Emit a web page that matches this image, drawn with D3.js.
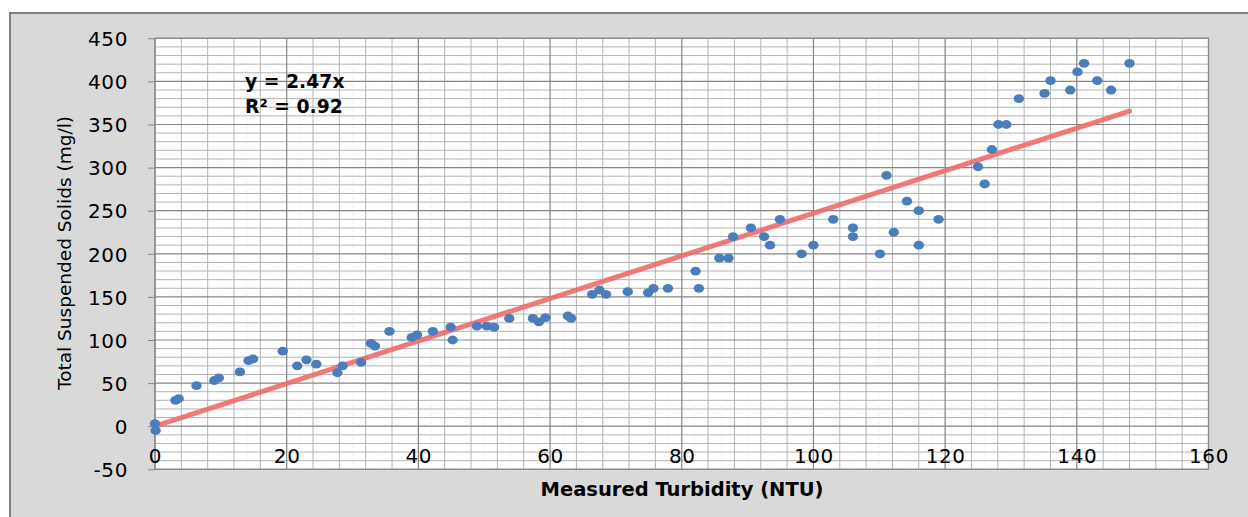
<!DOCTYPE html>
<html>
<head>
<meta charset="utf-8">
<script src="https://cdn.jsdelivr.net/npm/d3@7"></script>
<style>
  html, body { margin: 0; padding: 0; background: #ffffff; }
  svg { display: block; }
  text { font-family: "DejaVu Sans", sans-serif; fill: #000; }
</style>
</head>
<body>
<svg id="chart" width="1248" height="517"></svg>
<script>
// ---- data ----
const turbidity = [0, 0.1, 3.1, 3.6, 6.3, 9.0, 9.7, 12.9, 14.2, 14.9,
  19.4, 21.6, 23.0, 24.5, 27.7, 28.5, 31.3, 32.8, 33.4, 35.6,
  39.0, 39.8, 42.2, 44.9, 45.2, 48.9, 50.4, 51.5, 53.8, 57.4,
  58.3, 59.3, 62.7, 63.2, 66.4, 67.5, 68.5, 71.8, 74.9, 75.7,
  77.9, 82.1, 82.6, 85.7, 87.1, 87.8, 90.5, 92.5, 93.4, 94.9,
  98.2, 100.0, 103.0, 106.0, 106.0, 110.1, 111.1, 112.2, 114.2, 116.0,
  116.0, 119.0, 125.0, 126.0, 127.1, 128.1, 129.3, 131.2, 135.1, 136.0,
  139.0, 140.1, 141.1, 143.1, 145.2, 148.0];
const tss = [3, -5, 30, 32, 47, 53, 56, 63, 76, 78,
  87, 70, 77, 72, 62, 70, 74, 96, 93, 110,
  103, 106, 110, 115, 100, 116, 116, 115, 125, 125,
  121, 126, 128, 125, 153, 158, 153, 156, 155, 160,
  160, 180, 160, 195, 195, 220, 230, 220, 210, 240,
  200, 210, 240, 230, 220, 200, 291, 225, 261, 250,
  210, 240, 301, 281, 321, 350, 350, 380, 386, 401,
  390, 411, 421, 401, 390, 421];
const trendSlope = 2.47;
const trendRange = [0, 148];
const xTicks = [0, 20, 40, 60, 80, 100, 120, 140, 160];
const yTicks = [-50, 0, 50, 100, 150, 200, 250, 300, 350, 400, 450];
const equationLabel = "y = 2.47x";
const r2Label = "R² = 0.92";
const xTitle = "Measured Turbidity (NTU)";
const yTitle = "Total Suspended Solids (mg/l)";

// ---- layout ----
const svg = d3.select("#chart");
const W = 1248, H = 517;
const plot = { left: 155, top: 38.3, right: 1208.5, bottom: 469.3 };

const x = d3.scaleLinear().domain([0, 160]).range([plot.left, plot.right]);
const y = d3.scaleLinear().domain([-50, 450]).range([plot.bottom, plot.top]);
const fmt = d => String(d);

// chart area background
svg.append("rect").attr("x", 0).attr("y", 0).attr("width", W).attr("height", H).attr("fill", "#ffffff");
svg.append("rect").attr("x", 10).attr("y", 13).attr("width", W).attr("height", H)
  .attr("fill", "#d9d9d9").attr("stroke", "#808080").attr("stroke-width", 2);

// plot area
svg.append("rect").attr("x", plot.left).attr("y", plot.top)
  .attr("width", plot.right - plot.left).attr("height", plot.bottom - plot.top)
  .attr("fill", "#ffffff");

const grid = svg.append("g");
// faint intermediate vertical dashes
const faintX = d3.range(2, 160, 4);
grid.selectAll("line.fx").data(faintX).join("line")
  .attr("x1", d => x(d)).attr("x2", d => x(d))
  .attr("y1", plot.top).attr("y2", plot.bottom)
  .attr("stroke", "#ececec").attr("stroke-width", 1).attr("stroke-dasharray", "2,6");
// minor grid
const minorX = d3.range(0, 161, 4).filter(d => d % 20 !== 0);
const minorY = d3.range(-50, 451, 10).filter(d => d % 50 !== 0);
grid.selectAll("line.mx").data(minorX).join("line")
  .attr("x1", d => x(d)).attr("x2", d => x(d))
  .attr("y1", plot.top).attr("y2", plot.bottom)
  .attr("stroke", "#b4b4b4").attr("stroke-width", 1);
grid.selectAll("line.my").data(minorY).join("line")
  .attr("x1", plot.left).attr("x2", plot.right)
  .attr("y1", d => y(d)).attr("y2", d => y(d))
  .attr("stroke", "#b4b4b4").attr("stroke-width", 1);
// major grid
grid.selectAll("line.Mx").data(xTicks).join("line")
  .attr("x1", d => x(d)).attr("x2", d => x(d))
  .attr("y1", plot.top).attr("y2", plot.bottom)
  .attr("stroke", "#858585").attr("stroke-width", 1.2);
grid.selectAll("line.My").data(yTicks).join("line")
  .attr("x1", plot.left).attr("x2", plot.right)
  .attr("y1", d => y(d)).attr("y2", d => y(d))
  .attr("stroke", "#858585").attr("stroke-width", 1.2);

svg.append("rect").attr("x", plot.left).attr("y", plot.top)
  .attr("width", plot.right - plot.left).attr("height", plot.bottom - plot.top)
  .attr("fill", "none").attr("stroke", "#8a8a8a").attr("stroke-width", 1.2);

// y axis (ticks + labels)
const yAxis = d3.axisLeft(y).tickValues(yTicks).tickSize(7).tickPadding(20).tickFormat(fmt);
const yg = svg.append("g").attr("transform", `translate(${plot.left},0)`).call(yAxis);
yg.select(".domain").remove();
yg.selectAll(".tick line").attr("stroke", "#858585");
yg.selectAll(".tick text").attr("font-family", "DejaVu Sans").attr("font-size", 20)
  .attr("letter-spacing", "0.6px").attr("fill", "#000").attr("dy", "0.36em");

// x axis labels placed below zero line as in reference
const xAxis = d3.axisBottom(x).tickValues(xTicks).tickSize(0).tickPadding(0).tickFormat(fmt);
const xg = svg.append("g").attr("transform", `translate(0,${y(0)})`).call(xAxis);
xg.select(".domain").remove();
xg.selectAll(".tick text").attr("font-family", "DejaVu Sans").attr("font-size", 20)
  .attr("letter-spacing", "0.6px").attr("fill", "#000").attr("y", 37).attr("dy", 0);

// trend line
const line = d3.line().x(d => x(d)).y(d => y(trendSlope * d));
svg.append("path").datum(trendRange).attr("d", line)
  .attr("fill", "none").attr("stroke", "#f06a6a").attr("stroke-opacity", 0.9)
  .attr("stroke-width", 5).attr("stroke-linecap", "round");

// points
const pts = turbidity.map((t, i) => ({ t, v: tss[i] }));
svg.append("g").selectAll("ellipse").data(pts).join("ellipse")
  .attr("cx", d => x(d.t)).attr("cy", d => y(d.v))
  .attr("rx", 5.2).attr("ry", 4.4).attr("fill", "#4a7ebb");

// equation
svg.append("text").attr("x", 245).attr("y", 88).attr("font-weight", "bold").attr("font-size", 18.8)
  .text(equationLabel);
svg.append("text").attr("x", 245).attr("y", 113).attr("font-weight", "bold").attr("font-size", 18.8)
  .text(r2Label);

// axis titles
svg.append("text").attr("x", 682).attr("y", 496).attr("text-anchor", "middle")
  .attr("font-weight", "bold").attr("font-size", 19.5).text(xTitle);
svg.append("text").attr("transform", "translate(71,253) rotate(-90)").attr("text-anchor", "middle")
  .attr("font-size", 18.5).text(yTitle);
</script>
</body>
</html>
